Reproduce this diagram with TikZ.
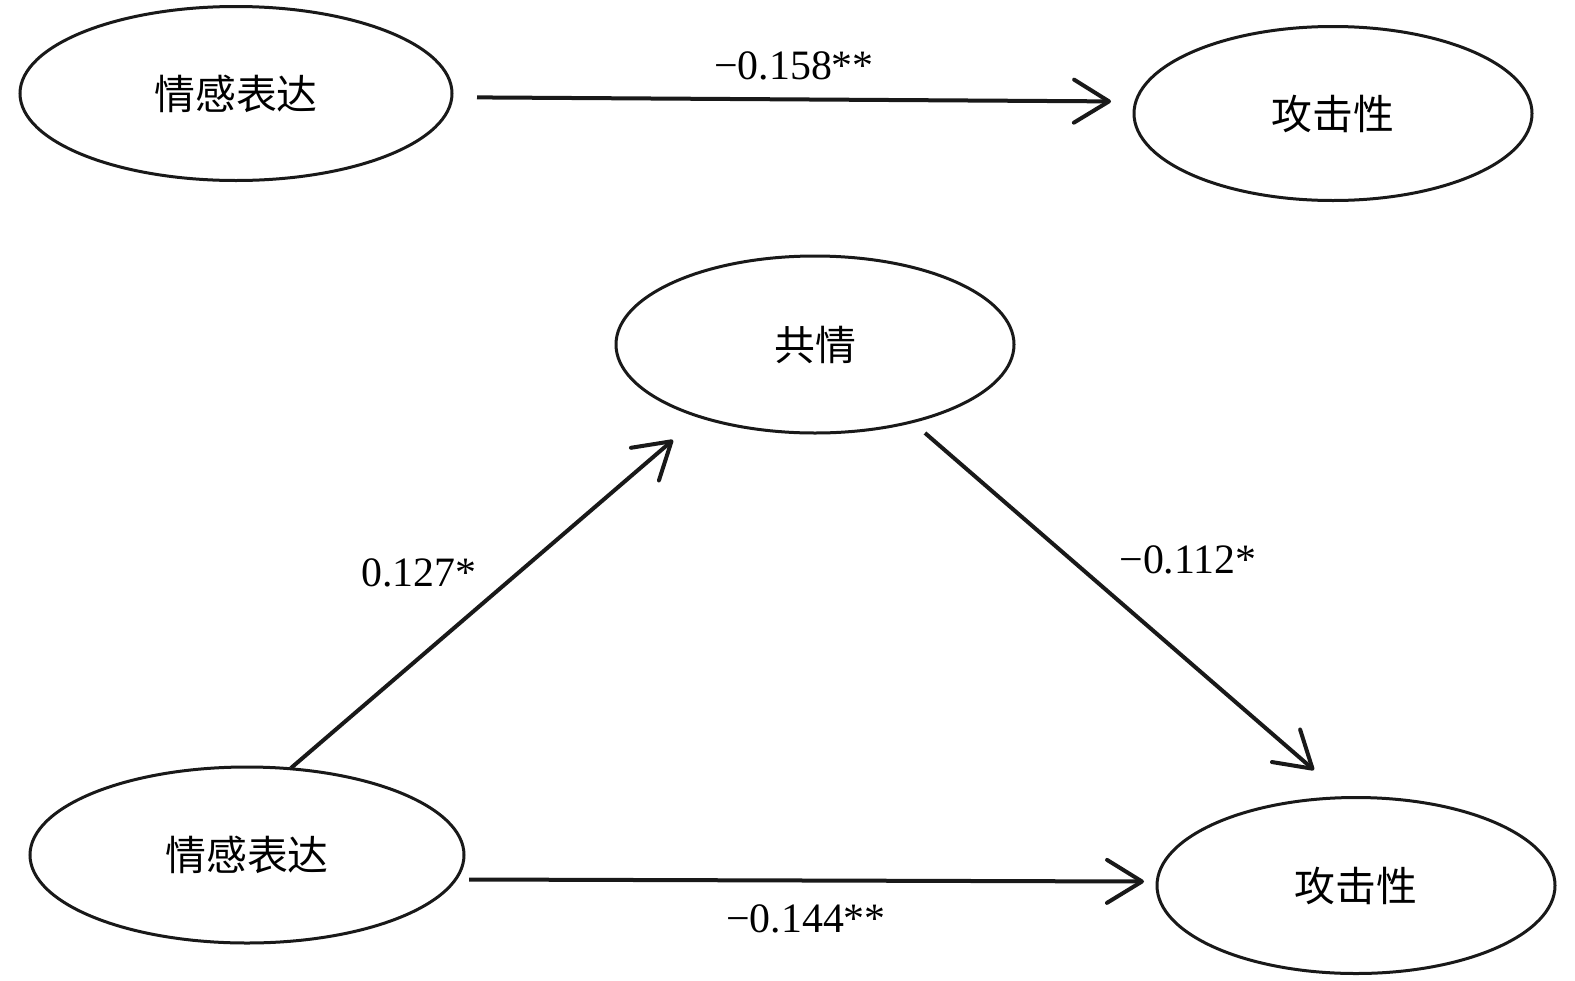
\documentclass[tikz,border=0pt]{standalone}
\usepackage{fontspec}
\setmainfont{Liberation Serif}
\newfontfamily\cjk{Noto Sans CJK SC}
\usetikzlibrary{shapes.geometric,arrows.meta}
\begin{document}
\begin{tikzpicture}[x=1bp,y=-1bp,
  var/.style={draw=black!90,line width=3bp,ellipse,inner sep=0pt,font=\cjk\fontsize{41}{44}\selectfont},
  path/.style={draw=black!90,line width=4bp,-{Straight Barb[length=35bp,width=43bp,round]}},
  coef/.style={font=\fontsize{42}{46}\selectfont}]
\useasboundingbox (0,0) rectangle (1575,980);
\fill[white] (0,0) rectangle (1575,980);
\node[var,minimum width=432bp,minimum height=174bp] (x1) at (236,93.5) {情感表达};
\node[var,minimum width=398bp,minimum height=174bp] (y1) at (1333,113.5) {攻击性};
\node[var,minimum width=398bp,minimum height=177bp] (m) at (815,344.5) {共情};
\node[var,minimum width=434bp,minimum height=176bp] (x2) at (247,855) {情感表达};
\node[var,minimum width=398bp,minimum height=176bp] (y2) at (1356,885.5) {攻击性};
\coordinate (a1) at (477,97.4);
\coordinate (a2) at (1111,101.4);
\coordinate (b1) at (291,768);
\coordinate (b2) at (673,440);
\coordinate (c1) at (925,433);
\coordinate (c2) at (1314,770);
\coordinate (d1) at (469,879.5);
\coordinate (d2) at (1144,881.5);
\draw[path] (a1) -- (a2);
\draw[path] (b1) -- (b2);
\draw[path] (c1) -- (c2);
\draw[path] (d1) -- (d2);
\node[coef] (l1) at (794,66) {−0.158**};
\node[coef] (l2) at (419,573) {0.127*};
\node[coef] (l3) at (1188,560) {−0.112*};
\node[coef] (l4) at (806,919) {−0.144**};
\end{tikzpicture}
\end{document}
